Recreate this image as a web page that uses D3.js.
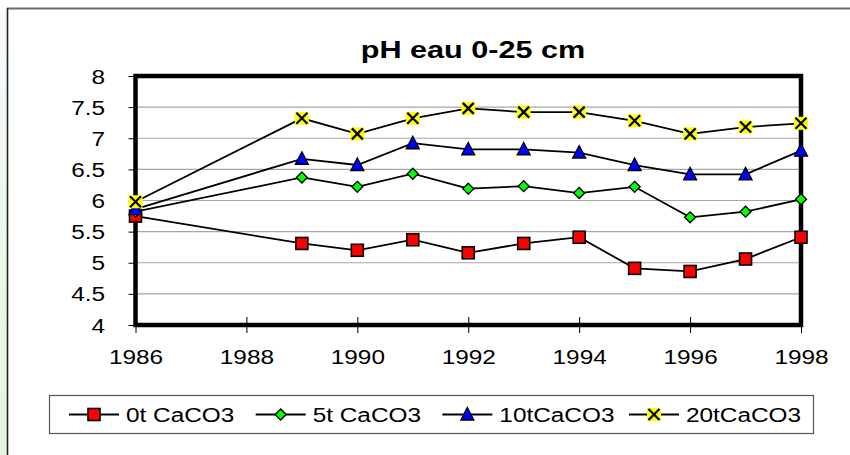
<!DOCTYPE html>
<html>
<head>
<meta charset="utf-8">
<script src="https://cdn.jsdelivr.net/npm/d3@7/dist/d3.min.js"></script>
<style>
  html, body { margin: 0; padding: 0; background: #fff; }
  svg { display: block; font-family: "Liberation Sans", Arial, sans-serif; }
</style>
</head>
<body>
<svg id="chart" width="850" height="455"></svg>
<script>
// pH (eau) of the 0-25 cm layer, per liming rate
const years    = [1986, 1989, 1990, 1991, 1992, 1993, 1994, 1995, 1996, 1997, 1998];
const ph0t     = [5.75, 5.31, 5.20, 5.37, 5.16, 5.31, 5.41, 4.91, 4.86, 5.06, 5.41];
const ph5t     = [5.82, 6.37, 6.22, 6.43, 6.19, 6.23, 6.12, 6.22, 5.73, 5.82, 6.02];
const ph10t    = [5.86, 6.67, 6.57, 6.92, 6.82, 6.82, 6.77, 6.57, 6.42, 6.42, 6.80];
const ph20t    = [5.98, 7.32, 7.07, 7.32, 7.48, 7.42, 7.42, 7.28, 7.07, 7.18, 7.24];
const seriesNames = ["0t CaCO3", "5t CaCO3", "10tCaCO3", "20tCaCO3"];
const xTicks   = [1986, 1988, 1990, 1992, 1994, 1996, 1998];
const yTicks   = [4, 4.5, 5, 5.5, 6, 6.5, 7, 7.5, 8];
const yTickLabels = ["4", "4.5", "5", "5.5", "6", "6.5", "7", "7.5", "8"];
const titleText = "pH eau 0-25 cm";

const series = [
  { name: seriesNames[0], values: ph0t,  symbol: "square",   fill: "#ff0000" },
  { name: seriesNames[1], values: ph5t,  symbol: "diamond",  fill: "#00ff00" },
  { name: seriesNames[2], values: ph10t, symbol: "triangle", fill: "#0000ff" },
  { name: seriesNames[3], values: ph20t, symbol: "cross",    fill: "#ffff00" }
];

const SX = 1.25; // wide letterforms
const svg = d3.select("#chart");

// left page strip and frame
const grad = svg.append("defs").append("linearGradient")
  .attr("id", "strip").attr("x1", 0).attr("y1", 0).attr("x2", 0).attr("y2", 1);
grad.append("stop").attr("offset", "0%").attr("stop-color", "#f6fbf6");
grad.append("stop").attr("offset", "100%").attr("stop-color", "#e4f3e4");
svg.append("rect").attr("x", 0).attr("y", 9).attr("width", 7).attr("height", 446).attr("fill", "url(#strip)");
svg.append("line").attr("x1", 7).attr("x2", 850).attr("y1", 8.5).attr("y2", 8.5)
  .attr("stroke", "#6a6a6a").attr("stroke-width", 2);
svg.append("line").attr("x1", 7.5).attr("x2", 7.5).attr("y1", 8).attr("y2", 455)
  .attr("stroke", "#222").attr("stroke-width", 1.6);

const x = d3.scaleLinear().domain([1986, 1998]).range([135.5, 801]);
const y = d3.scaleLinear().domain([4, 8]).range([325, 76]);

// title
svg.append("text")
  .attr("transform", `translate(473,58) scale(${SX},1)`)
  .attr("text-anchor", "middle")
  .attr("font-size", 24.5).attr("font-weight", "bold").attr("fill", "#000")
  .text(titleText);

// gridlines
svg.append("g").selectAll("line").data(yTicks.filter(v => v > 4 && v < 8)).join("line")
  .attr("x1", x(1986)).attr("x2", x(1998))
  .attr("y1", d => y(d)).attr("y2", d => y(d))
  .attr("stroke", "#a6a6a6").attr("stroke-width", 1.2);

// axes
const yAxis = svg.append("g").attr("transform", `translate(${x(1986)},0)`)
  .call(d3.axisLeft(y).tickValues(yTicks).tickSize(7)
    .tickFormat((d, i) => yTickLabels[i]));
yAxis.select(".domain").remove();
yAxis.selectAll(".tick line").attr("stroke", "#000").attr("stroke-width", 1);
yAxis.selectAll(".tick text")
  .attr("x", -30.5 / SX).attr("dy", "0.36em")
  .attr("transform", `scale(${SX},1)`)
  .attr("font-size", 19.5).attr("fill", "#000").attr("font-family", null);

const xAxis = svg.append("g").attr("transform", `translate(0,${y(4)})`)
  .call(d3.axisBottom(x).tickValues(xTicks).tickSize(8).tickFormat(d3.format("d")));
xAxis.select(".domain").remove();
xAxis.selectAll(".tick line").attr("y1", -8).attr("y2", 8).attr("stroke", "#000").attr("stroke-width", 1);
xAxis.selectAll(".tick text")
  .attr("y", 25).attr("dy", "0.72em")
  .attr("transform", `scale(${SX},1)`)
  .attr("font-size", 19.5).attr("fill", "#000").attr("font-family", null);

// plot frame
svg.append("rect")
  .attr("x", x(1986)).attr("y", y(8))
  .attr("width", x(1998) - x(1986)).attr("height", y(4) - y(8))
  .attr("fill", "none").attr("stroke", "#000").attr("stroke-width", 4.5);

// marker drawing
function drawMarker(g, s, cx, cy) {
  const m = g.append("g").attr("transform", `translate(${cx},${cy})`);
  if (s.symbol === "square") {
    m.append("rect").attr("x", -6).attr("y", -6).attr("width", 12).attr("height", 12)
      .attr("fill", s.fill).attr("stroke", "#000").attr("stroke-width", 1.6);
  } else if (s.symbol === "diamond") {
    m.append("path").attr("d", "M0,-5.5L5.5,0L0,5.5L-5.5,0Z")
      .attr("fill", s.fill).attr("stroke", "#000").attr("stroke-width", 1.3);
  } else if (s.symbol === "triangle") {
    m.append("path").attr("d", "M0,-7L6.5,5.5L-6.5,5.5Z")
      .attr("fill", s.fill).attr("stroke", "#000").attr("stroke-width", 1.3);
  } else {
    m.append("rect").attr("x", -7).attr("y", -6.5).attr("width", 14).attr("height", 13)
      .attr("fill", s.fill);
    m.append("path").attr("d", "M-5.5,-5.5L5.5,5.5M5.5,-5.5L-5.5,5.5")
      .attr("stroke", "#000").attr("stroke-width", 2.2).attr("fill", "none");
  }
}

const line = d3.line().x((d, i) => x(years[i])).y(d => y(d));
const plot = svg.append("g");
series.forEach(s => {
  plot.append("path").datum(s.values).attr("d", line)
    .attr("fill", "none").attr("stroke", "#000").attr("stroke-width", 1.8);
});
series.forEach(s => {
  s.values.forEach((v, i) => drawMarker(plot, s, x(years[i]), y(v)));
});

// legend
const legend = svg.append("g");
legend.append("rect").attr("x", 49.5).attr("y", 395.5).attr("width", 764).attr("height", 38)
  .attr("fill", "#fff").attr("stroke", "#555").attr("stroke-width", 1.2);
const legendX = d3.scalePoint().domain(seriesNames).range([69, 629]);
series.forEach(s => {
  const lx = legendX(s.name), ly = 414.5;
  legend.append("line").attr("x1", lx).attr("x2", lx + 50).attr("y1", ly).attr("y2", ly)
    .attr("stroke", "#000").attr("stroke-width", 1.8);
  drawMarker(legend, s, lx + 25, ly);
  legend.append("text")
    .attr("transform", `translate(${lx + 57},${ly}) scale(${SX},1)`)
    .attr("dy", "0.36em").attr("font-size", 19.5).attr("fill", "#000")
    .text(s.name);
});
</script>
</body>
</html>
